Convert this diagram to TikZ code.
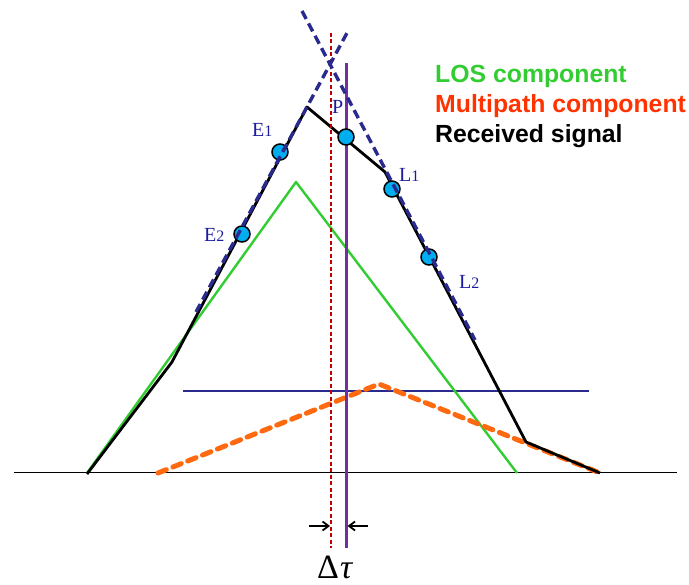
\documentclass[tikz,border=0pt]{standalone}
\usepackage{fontspec}
\setmainfont{Liberation Serif}
\newfontfamily\legendfont{Liberation Sans}
\usetikzlibrary{arrows.meta}
\definecolor{losgreen}{HTML}{33CC33}
\definecolor{mpred}{HTML}{FF3300}
\definecolor{mporange}{HTML}{FF6A10}
\definecolor{navy}{HTML}{2A2A8E}
\definecolor{lblue}{HTML}{1C1CA0}
\definecolor{darkred}{HTML}{C00000}
\definecolor{purp}{HTML}{7030A0}
\definecolor{dotcyan}{HTML}{00AEEF}
\tikzset{
  sample/.style={circle,draw=black,line width=1.5pt,fill=dotcyan,minimum size=16pt,inner sep=0pt},
  ptlabel/.style={text=lblue,font=\fontsize{20}{20}\selectfont,inner sep=0pt,anchor=base west},
  legend/.style={font=\legendfont\bfseries\fontsize{24.8}{24.8}\selectfont,inner sep=0pt,anchor=base west},
  fitline/.style={navy,line width=3.4pt,dash pattern=on 9pt off 5pt},
  recv/.style={black,line width=2.8pt,line join=round},
  los/.style={losgreen,line width=2.4pt,line join=round},
  mpath/.style={mporange,line width=5pt,dash pattern=on 9pt off 7pt,line cap=round,line join=round},
  ticklabel/.style={font=\fontsize{34}{34}\selectfont,inner sep=0pt,anchor=base west},
}
\begin{document}
\begin{tikzpicture}[x=1pt,y=-1pt]
\useasboundingbox (0,0) rectangle (689,585);
% coordinates
\coordinate (b0) at (14,473);
\coordinate (b1) at (677,473);
\coordinate (h0) at (183,391);
\coordinate (h1) at (589,391);
\coordinate (g0) at (87,473);
\coordinate (g1) at (296,182);
\coordinate (g2) at (517,473);
\coordinate (m0) at (158,473);
\coordinate (m1) at (379,384);
\coordinate (m2) at (600,473);
\coordinate (r0) at (87,474);
\coordinate (r1) at (172,362);
\coordinate (r2) at (307,107);
\coordinate (r3) at (385,172);
\coordinate (r4) at (526,442);
\coordinate (r5) at (600,473);
\coordinate (vr0) at (331,33);
\coordinate (vr1) at (331,548);
\coordinate (vp0) at (346,63);
\coordinate (vp1) at (346,548);
\coordinate (fl0) at (196,312);
\coordinate (fl1) at (347,33);
\coordinate (fr0) at (302,11);
\coordinate (fr1) at (475,340);
\coordinate (al0) at (309,526);
\coordinate (al1) at (368,526);
% base line and horizontal level
\draw[black,line width=1pt] (b0) -- (b1);
\draw[navy,line width=1.2pt] (h0) -- (h1);
% LOS component
\draw[los] (g0) -- (g1) -- (g2);
% multipath component
\draw[mpath] (m0) -- (m1) -- (m2);
% received signal
\draw[recv] (r0) -- (r1) -- (r2) -- (r3) -- (r4) -- (r5);
% vertical lines
\draw[darkred,line width=2pt,dash pattern=on 4pt off 2.5pt] (vr0) -- (vr1);
\draw[purp,line width=3pt] (vp0) -- (vp1);
% sample points
\node[sample] (E1) at (280,152) {};
\node[sample] (E2) at (242,234) {};
\node[sample] (P) at (346,137) {};
\node[sample] (L1) at (392,189) {};
\node[sample] (L2) at (429,257) {};
% fit lines
\draw[fitline] (fl0) -- (fl1);
\draw[fitline] (fr0) -- (fr1);
% labels
\node[ptlabel] (tE1) at (252,137) {E{\fontsize{16}{16}\selectfont 1}};
\node[ptlabel] (tE2) at (204,242) {E{\fontsize{16}{16}\selectfont 2}};
\node[ptlabel] (tP) at (332,114) {P};
\node[ptlabel] (tL1) at (399,182) {L{\fontsize{16}{16}\selectfont 1}};
\node[ptlabel] (tL2) at (459,289) {L{\fontsize{16}{16}\selectfont 2}};
% legend
\node[legend,text=losgreen] (leg1) at (435,83) {LOS component};
\node[legend,text=mpred] (leg2) at (435,113) {Multipath component};
\node[legend,text=black] (leg3) at (435,143) {Received signal};
% delta tau arrows
\coordinate (ar0) at (330,526);
\coordinate (ar1) at (347.5,526);
\draw[-{Straight Barb[length=6pt,width=9pt]},line width=1.8pt] (al0) -- (ar0);
\draw[-{Straight Barb[length=6pt,width=9pt]},line width=1.8pt] (al1) -- (ar1);
\node[ticklabel] (dt) at (317,579) {Δ\hspace{1pt}\textit{τ}};
\end{tikzpicture}
\end{document}
